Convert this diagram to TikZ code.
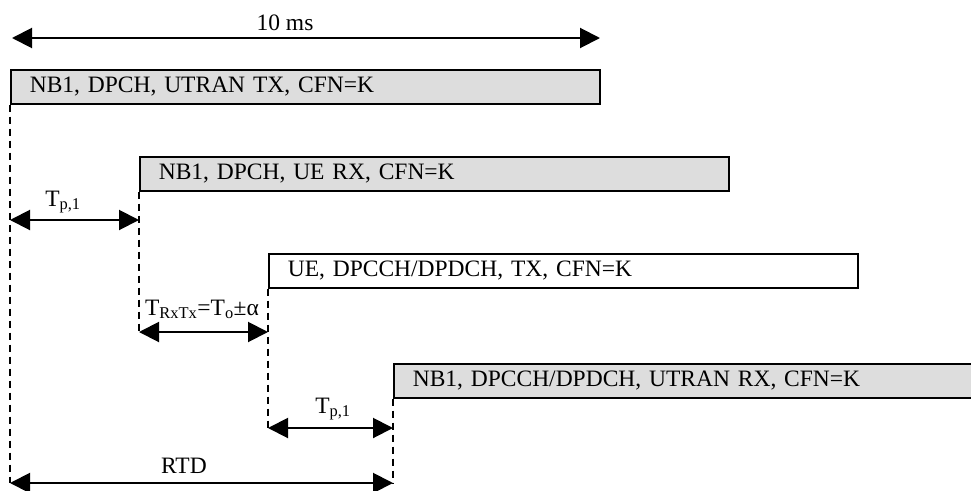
\documentclass[tikz,border=0pt]{standalone}
\usepackage{fontspec}
\setmainfont{Liberation Serif}
\usetikzlibrary{arrows.meta}
\definecolor{boxgray}{RGB}{221,221,221}
\tikzset{
  chbox/.style={draw=black, line width=1.6pt, anchor=north west, minimum width=589pt,
    minimum height=34pt, inner xsep=19pt, inner ysep=0pt, text width=551pt, align=left,
    font=\fontsize{23.5}{28}\selectfont},
  grayfill/.style={fill=boxgray},
  dimarrow/.style={line width=2pt, {Triangle[length=20pt,width=20pt]}-{Triangle[length=20pt,width=20pt]}},
  vline/.style={line width=1.8pt, dash pattern=on 7pt off 5pt},
  lbl/.style={anchor=base, inner sep=0pt, font=\fontsize{23.5}{28}\selectfont}
}
\begin{document}
\begin{tikzpicture}[x=1pt,y=-1pt]
\useasboundingbox (0,0) rectangle (971,490);
% boxes
\node[chbox, grayfill] (b1) at (10,69) {NB1, DPCH, UTRAN TX, CFN=K};
\node[chbox, grayfill] (b2) at (139,156) {NB1, DPCH, UE RX, CFN=K};
\node[chbox, fill=white] (b3) at (268,253) {UE, DPCCH/DPDCH, TX, CFN=K};
\node[chbox, grayfill] (b4) at (393,363) {NB1, DPCCH/DPDCH, UTRAN RX, CFN=K};
% coordinates
\coordinate (t0l) at (12,38);
\coordinate (t0r) at (600,38);
\coordinate (a1l) at (b1.south west |- 0,220);
\coordinate (a1r) at (b2.south west |- 0,220);
\coordinate (a2l) at (b2.south west |- 0,332);
\coordinate (a2r) at (b3.south west |- 0,332);
\coordinate (a3l) at (b3.south west |- 0,428);
\coordinate (a3r) at (b4.south west |- 0,428);
\coordinate (a4l) at (b1.south west |- 0,483);
\coordinate (a4r) at (b4.south west |- 0,483);
% dashed verticals
\draw[vline] (b1.south west) -- (a4l);
\draw[vline] (b2.south west) -- (a2l);
\draw[vline] (b3.south west) -- (a3l);
\draw[vline] (b4.south west) -- (a4r);
% dimension arrows
\draw[dimarrow] (t0l) -- (t0r);
\draw[dimarrow] (a1l) -- (a1r);
\draw[dimarrow] (a2l) -- (a2r);
\draw[dimarrow] (a3l) -- (a3r);
\draw[dimarrow] (a4l) -- (a4r);
% labels
\node[lbl] (l0) at (285,30) {10 ms};
\node[lbl] (l1) at (63,206) {T\textsubscript{p,1}};
\node[lbl] (l2) at (202,315) {T\textsubscript{RxTx}=T\textsubscript{o}±α};
\node[lbl] (l3) at (333,413) {T\textsubscript{p,1}};
\node[lbl] (l4) at (184,473) {RTD};
\end{tikzpicture}
\end{document}
